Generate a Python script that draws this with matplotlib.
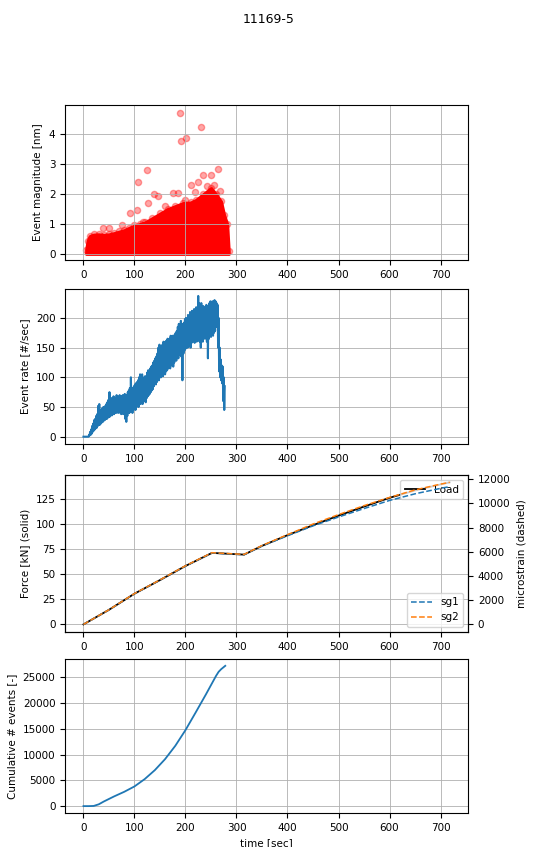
import numpy as np
import matplotlib.pyplot as plt

# event magnitude: upper edge of the dense cloud and the isolated events
cloud_t = [5, 8, 12, 20, 30, 40, 50, 60, 70, 80, 90, 100, 110, 120, 135, 150, 165,
           180, 195, 210, 220, 235, 250, 260, 270, 276, 282, 285]
cloud_top = [0.15, 0.45, 0.6, 0.65, 0.66, 0.64, 0.66, 0.7, 0.75, 0.8, 0.88, 0.95, 1.0,
             1.05, 1.2, 1.35, 1.5, 1.6, 1.7, 1.72, 1.8, 2.0, 2.2, 2.0, 1.75, 1.3, 1.0, 0.1]
outlier_t = [190, 230, 192, 200.6, 125, 106, 264, 235, 250, 225, 210, 138, 146, 127,
             175, 185, 92, 104, 76, 39, 51, 117, 219, 256, 160, 200, 243, 268]
outlier_mag = [4.70, 4.23, 3.75, 3.85, 2.81, 2.40, 2.84, 2.62, 2.62, 2.40, 2.29, 1.99,
               1.92, 1.71, 2.04, 2.04, 1.35, 1.46, 0.97, 0.86, 0.86, 1.08, 2.07, 2.29,
               1.6, 1.8, 2.25, 2.1]

# event rate: low / high of the noisy trace every 2 s
rate_t = list(range(0, 278, 2))
rate_low = [0, 0, 0, 0, 0, 0, 2, 3, 5, 8, 10, 12, 14, 15, 18, 20, 20, 22, 24, 25,
            27, 28, 30, 30, 32, 33, 34, 36, 36, 38, 38, 40, 40, 42, 40, 42, 40, 38, 40, 38,
            40, 30, 25, 35, 40, 40, 42, 42, 40, 45, 48, 45, 50, 52, 50, 55, 55, 58, 55, 60,
            62, 58, 65, 68, 70, 72, 75, 78, 80, 85, 90, 88, 92, 95, 95, 100, 100, 105, 102, 108,
            105, 110, 112, 115, 118, 115, 120, 122, 118, 125, 130, 128, 135, 132, 138, 140, 135, 95, 140, 145,
            148, 150, 150, 152, 155, 150, 158, 160, 162, 158, 165, 160, 165, 162, 160, 150, 165, 160, 168, 165,
            170, 160, 132, 165, 170, 168, 172, 170, 175, 178, 185, 190, 150, 110, 100, 95, 90, 60, 45]
rate_high = [0, 0, 0, 0, 0, 3, 8, 12, 18, 22, 28, 30, 35, 38, 52, 55, 40, 45, 48, 50,
             50, 52, 55, 58, 62, 75, 62, 65, 60, 68, 65, 65, 70, 68, 66, 70, 66, 68, 70, 68,
             72, 66, 70, 75, 78, 82, 100, 80, 82, 85, 88, 90, 92, 95, 100, 105, 100, 105, 98, 100,
             102, 95, 108, 112, 110, 115, 118, 120, 125, 128, 132, 135, 140, 150, 155, 148, 152, 155, 160, 158,
             160, 162, 165, 160, 165, 170, 168, 170, 165, 172, 175, 178, 185, 190, 185, 195, 190, 188, 192, 198,
             200, 195, 205, 200, 210, 205, 212, 208, 215, 210, 218, 215, 237, 225, 220, 225, 215, 220, 212, 218,
             222, 215, 220, 225, 228, 222, 228, 225, 230, 228, 225, 222, 200, 150, 130, 120, 118, 100, 85]

# load and strain gauges
load_t = [0, 50, 100, 150, 200, 252, 315, 350, 400, 450, 500, 550, 600, 650, 700, 718]
load_kn = [0, 14.5, 30.5, 44, 58, 71, 69.3, 78, 88.6, 98.5, 108, 117, 125.7, 133, 139, 141]
sg1 = [0, 1200, 2540, 3670, 4830, 5910, 5770, 6480, 7330, 8150, 8880, 9580, 10250,
       10800, 11250, 11400]
sg2 = [0, 1210, 2550, 3680, 4850, 5930, 5790, 6520, 7420, 8300, 9080, 9820, 10500,
       11120, 11600, 11750]

# cumulative number of events
cum_t = [0, 10, 20, 30, 40, 60, 80, 100, 120, 140, 160, 180, 200, 220, 240, 260, 265, 270, 278]
cum_events = [0, 0, 30, 350, 900, 1880, 2780, 3820, 5240, 6990, 9120, 11700, 14750,
              18180, 21670, 25290, 26070, 26580, 27230]

plt.rcParams['font.size'] = 7.5
plt.rcParams['lines.linewidth'] = 1.3

fig = plt.figure(figsize=(5.38, 8.47), dpi=100)
fig.suptitle('11169-5', fontsize=9, y=0.985)

left, width = 0.121, 0.749
ax1 = fig.add_axes([left, 0.693, width, 0.183])
ax2 = fig.add_axes([left, 0.476, width, 0.183])
ax3 = fig.add_axes([left, 0.254, width, 0.185])
ax4 = fig.add_axes([left, 0.040, width, 0.182])

ax1.fill_between(cloud_t, 0, cloud_top, color='red', edgecolor='red', linewidth=2)
ax1.scatter(cloud_t, cloud_top, s=20, color='red', alpha=0.35)
ax1.scatter(outlier_t, outlier_mag, s=20, color='red', alpha=0.35)
ax1.set_ylabel('Event magnitude [nm]')
ax1.set_ylim(-0.2, 4.96)

rate_x, rate_y = [], []
for t, lo, hi in zip(rate_t, rate_low, rate_high):
    rate_x += [t, t + 1]
    rate_y += [lo, hi]
ax2.plot(rate_x, rate_y, color='C0', linewidth=1.5)
ax2.set_ylabel('Event rate [#/sec]')
ax2.set_ylim(-12, 249)

ax3.plot(load_t, load_kn, 'k-', label='Load')
ax3.set_ylabel('Force [kN] (solid)')
ax3.set_ylim(-7.4, 148.2)
ax3.legend(loc='upper right')
ax3b = ax3.twinx()
ax3b.plot(load_t, sg1, '--', color='C0', linewidth=1.1, label='sg1')
ax3b.plot(load_t, sg2, '--', color='C1', linewidth=1.1, label='sg2')
ax3b.set_ylabel('microstrain (dashed)')
ax3b.set_ylim(-617, 12342)
ax3b.set_yticks(range(0, 12001, 2000))
ax3b.legend(loc='lower right')

ax4.plot(cum_t, cum_events, color='C0')
ax4.set_ylabel('Cumulative # events [-]')
ax4.set_xlabel('time [sec]')
ax4.set_ylim(-1360, 28560)

for ax in [ax1, ax2, ax3, ax4]:
    ax.set_xlim(-36, 754)
    ax.set_xticks(range(0, 701, 100))
    ax.grid(True, linewidth=0.6)

plt.savefig('out.png', dpi=100)
